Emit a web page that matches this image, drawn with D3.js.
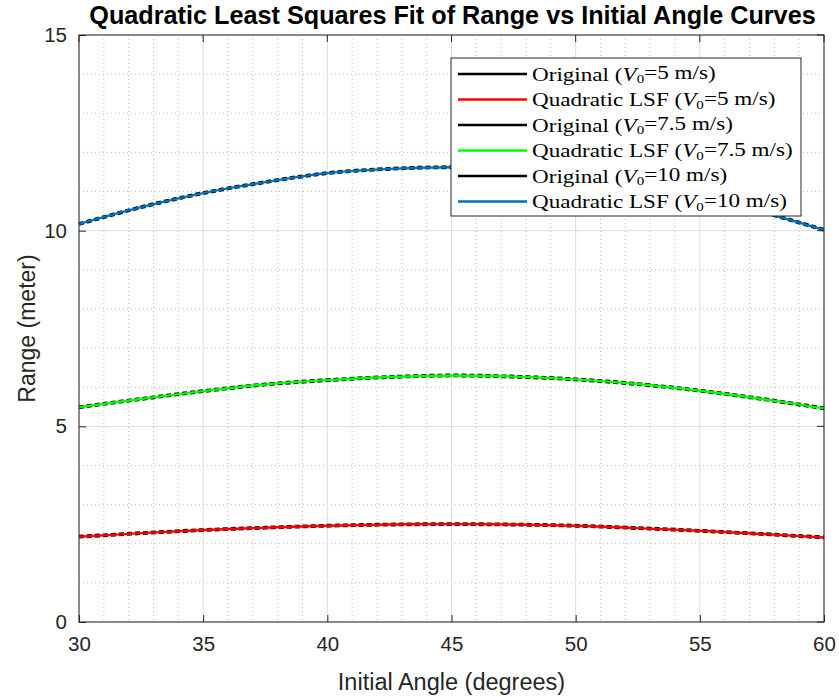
<!DOCTYPE html>
<html>
<head>
<meta charset="utf-8">
<script src="https://cdn.jsdelivr.net/npm/d3@7"></script>
<style>
html,body{margin:0;padding:0;background:#fff;}
svg{display:block;}
</style>
</head>
<body>
<svg id="chart" width="839" height="697"></svg>
<script>
// ---- data ----
const angles = [30, 32.5, 35, 37.5, 40, 42.5, 45, 47.5, 50, 52.5, 55, 57.5, 60];
const origV5   = [2.18, 2.27, 2.35, 2.41, 2.46, 2.49, 2.50, 2.49, 2.46, 2.40, 2.33, 2.25, 2.16];
const fitV5    = [2.18, 2.27, 2.35, 2.41, 2.46, 2.49, 2.50, 2.49, 2.46, 2.40, 2.33, 2.25, 2.16];
const origV75  = [5.49, 5.70, 5.90, 6.07, 6.18, 6.26, 6.30, 6.27, 6.20, 6.08, 5.91, 5.70, 5.46];
const fitV75   = [5.49, 5.70, 5.90, 6.07, 6.18, 6.26, 6.30, 6.27, 6.20, 6.08, 5.91, 5.70, 5.46];
const origV10  = [10.17, 10.60, 10.96, 11.24, 11.47, 11.58, 11.62, 11.57, 11.44, 11.20, 10.90, 10.48, 10.02];
const fitV10   = [10.17, 10.60, 10.96, 11.24, 11.47, 11.58, 11.62, 11.57, 11.44, 11.20, 10.90, 10.48, 10.02];
const xTicks = [30, 35, 40, 45, 50, 55, 60];
const yTicks = [0, 5, 10, 15];
const seriesNames = ["Original", "Quadratic LSF", "Original", "Quadratic LSF", "Original", "Quadratic LSF"];
const speedLabels = ["5", "5", "7.5", "7.5", "10", "10"];
const seriesColors = ["#000000", "#ff0000", "#000000", "#00ff00", "#000000", "#0072bd"];
const titleText = "Quadratic Least Squares Fit of Range vs Initial Angle Curves";
const xLabelText = "Initial Angle (degrees)";
const yLabelText = "Range (meter)";

// ---- layout ----
const svg = d3.select("#chart");
const L = 79, R = 824, T = 35, B = 622;
const x = d3.scaleLinear().domain([30, 60]).range([L, R]);
const y = d3.scaleLinear().domain([0, 15]).range([B, T]);
const axisColor = "#262626";

svg.append("rect").attr("x", 0).attr("y", 0).attr("width", 839).attr("height", 697).attr("fill", "#fff");

// minor grid
const gMinor = svg.append("g");
d3.range(30, 61, 1).filter(v => v % 5 !== 0).forEach(v => {
  gMinor.append("line").attr("x1", x(v)).attr("x2", x(v)).attr("y1", T).attr("y2", B)
    .attr("stroke", "#bdbdbd").attr("stroke-width", 1).attr("stroke-dasharray", "1,3");
});
d3.range(0, 16, 1).filter(v => v % 5 !== 0).forEach(v => {
  gMinor.append("line").attr("x1", L).attr("x2", R).attr("y1", y(v)).attr("y2", y(v))
    .attr("stroke", "#bdbdbd").attr("stroke-width", 1).attr("stroke-dasharray", "1,3");
});
// major grid
const gMajor = svg.append("g");
xTicks.forEach(v => {
  gMajor.append("line").attr("x1", x(v)).attr("x2", x(v)).attr("y1", T).attr("y2", B)
    .attr("stroke", "#dcdcdc").attr("stroke-width", 1);
});
yTicks.forEach(v => {
  gMajor.append("line").attr("x1", L).attr("x2", R).attr("y1", y(v)).attr("y2", y(v))
    .attr("stroke", "#dcdcdc").attr("stroke-width", 1);
});

// curves
const line = d3.line().x(d => x(d[0])).y(d => y(d[1])).curve(d3.curveCatmullRom);
const allSeries = [origV5, fitV5, origV75, fitV75, origV10, fitV10];
const gLines = svg.append("g");
allSeries.forEach((vals, i) => {
  const pts = angles.map((a, j) => [a, vals[j]]);
  const isOrig = i % 2 === 0;
  gLines.append("path").datum(pts).attr("d", line)
    .attr("fill", "none")
    .attr("stroke", seriesColors[i])
    .attr("stroke-width", isOrig ? 3.8 : 2.4)
    .attr("stroke-dasharray", isOrig ? "5,3" : null)
    .attr("stroke-linecap", "butt");
});

// axes
const xAxis = d3.axisBottom(x).tickValues(xTicks).tickSize(-7).tickPadding(14).tickFormat(d3.format("d"));
const yAxis = d3.axisLeft(y).tickValues(yTicks).tickSize(-7).tickPadding(12).tickFormat(d3.format("d"));
const gx = svg.append("g").attr("transform", `translate(0,${B})`).call(xAxis);
const gy = svg.append("g").attr("transform", `translate(${L},0)`).call(yAxis);
[gx, gy].forEach(g => {
  g.select(".domain").remove();
  g.selectAll(".tick line").attr("stroke", axisColor);
  g.selectAll(".tick text").attr("fill", axisColor)
    .attr("font-family", "Liberation Sans, Arial, sans-serif").attr("font-size", 20.5);
});
gx.selectAll(".tick text").attr("dy", "0.71em");
// box
svg.append("rect").attr("x", L).attr("y", T).attr("width", R - L).attr("height", B - T)
  .attr("fill", "none").attr("stroke", axisColor).attr("stroke-width", 1);
// top/right ticks
xTicks.forEach(v => svg.append("line").attr("x1", x(v)).attr("x2", x(v)).attr("y1", T).attr("y2", T + 7).attr("stroke", axisColor));
yTicks.forEach(v => svg.append("line").attr("x1", R).attr("x2", R - 7).attr("y1", y(v)).attr("y2", y(v)).attr("stroke", axisColor));

// labels
svg.append("text").attr("x", (L + R) / 2).attr("y", 690).attr("text-anchor", "middle")
  .attr("font-family", "Liberation Sans, Arial, sans-serif").attr("font-size", 23.5).attr("fill", axisColor)
  .text(xLabelText);
svg.append("text").attr("transform", `translate(35,${(T + B) / 2}) rotate(-90)`).attr("text-anchor", "middle")
  .attr("font-family", "Liberation Sans, Arial, sans-serif").attr("font-size", 23).attr("fill", axisColor)
  .text(yLabelText);
const title = svg.append("text").attr("x", (L + R) / 2 + 1).attr("y", 24).attr("text-anchor", "middle")
  .attr("font-family", "Liberation Sans, Arial, sans-serif").attr("font-weight", "bold").attr("font-size", 20)
  .attr("fill", "#000").text(titleText);
const tw = title.node().getComputedTextLength();
title.attr("font-size", 20 * 727 / tw);

// legend
const lgX = 451, lgY = 58, lgW = 350, lgH = 158;
const gLeg = svg.append("g");
gLeg.append("rect").attr("x", lgX).attr("y", lgY).attr("width", lgW).attr("height", lgH)
  .attr("fill", "#fff").attr("stroke", axisColor).attr("stroke-width", 1);
const rowY = i => 74 + i * 25.5;
const texts = [];
seriesNames.forEach((n, i) => {
  gLeg.append("line").attr("x1", 458).attr("x2", 527).attr("y1", rowY(i)).attr("y2", rowY(i))
    .attr("stroke", seriesColors[i]).attr("stroke-width", 2.4);
  const t = gLeg.append("text").attr("x", 0).attr("y", 0)
    .attr("transform", `translate(532,${rowY(i) + 6.5})`)
    .attr("font-family", "Liberation Serif, Times New Roman, serif").attr("font-size", 19.5).attr("fill", "#000");
  t.append("tspan").text(n + " (");
  t.append("tspan").attr("font-style", "italic").text("V");
  t.append("tspan").attr("font-size", "0.65em").attr("dy", "0.2em").text("0");
  t.append("tspan").attr("dy", "-0.2em").text("=" + speedLabels[i] + " m/s)");
  texts.push({t, i});
});
const maxW = d3.max(texts, o => o.t.node().getComputedTextLength());
const sx = 261 / maxW;
texts.forEach(o => o.t.attr("transform", `translate(532,${rowY(o.i) + 6.5}) scale(${sx},1)`));
</script>
</body>
</html>
